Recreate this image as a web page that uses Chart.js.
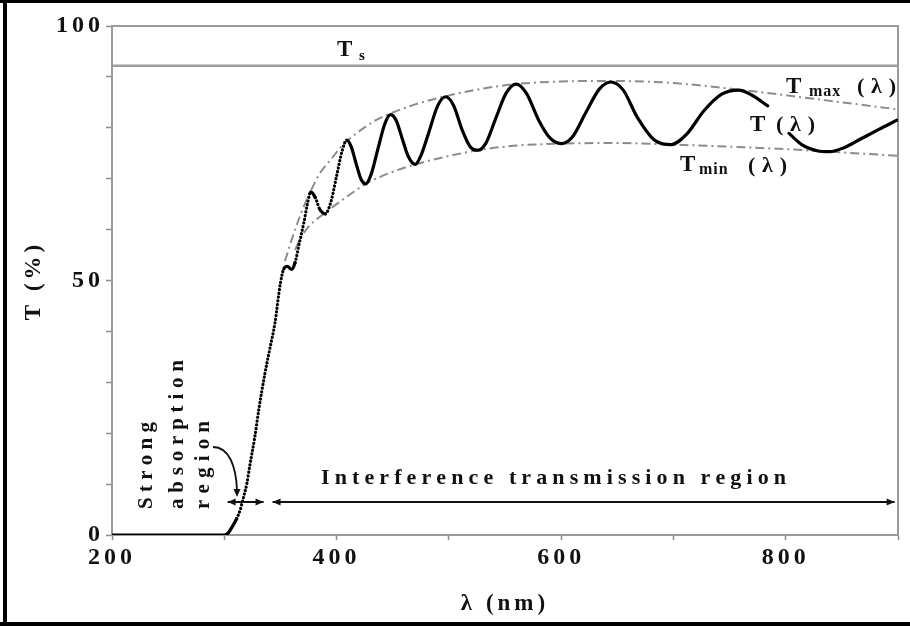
<!DOCTYPE html>
<html><head><meta charset="utf-8">
<script src="https://cdn.jsdelivr.net/npm/chart.js@4.4.1/dist/chart.umd.min.js"></script>
<style>html,body{margin:0;padding:0;background:#fff;}canvas{display:block;}</style>
</head><body>
<canvas id="c" width="910" height="626"></canvas>
<script>
// ---- data ----
const wavelength = [200,250,300,303,307,311,314,317,320,323,327,331,336,340,345,350,353,356,360,363,367,371,374,377,381,385,390,395,400,405,409,413,418,422,426,431,437,443,448,453,459,464,470,475,482,490,497,504,512,519,526,533,542,551,560,569,580,590,600,610,622,634,644,655,668,683,698,712,727,743,758,770,784,793,803,815,828,839,852,866,883,899];
const transmission = [0,0,0,0.3,1.6,3.2,4.8,7.3,10,14,19,25,31.5,36,41.5,49.5,52.3,52.8,52.2,53.5,57.5,61.5,65,67.4,66.3,64,63.1,65.5,70.5,75.5,77.6,76.3,72.5,69.8,69,71,76,80.8,82.6,81.5,77.5,74.3,72.8,74.5,79,84.3,86.1,84.5,79.5,76.3,75.6,77,82,86.8,88.6,86.8,81.5,78,76.9,78.2,83,87.6,89,87.5,82,77.6,76.7,78.8,83.3,86.6,87.4,86.4,84.3,null,78.9,76.6,75.5,75.3,76.1,77.7,79.7,81.5];
const tmaxWavelength = [354,360,368,377,385,395,405,420,435,450,470,497,530,560,600,644,700,758,800,850,900];
const tmaxValues = [53.8,58,63,67.6,71,73.8,76.5,79.3,81.5,83,84.6,86.2,87.7,88.6,89.1,89.2,88.8,87.5,86.4,85,83.6];
const tminWavelength = [363,368,374,382,390,400,410,426,447,470,495,526,560,600,650,698,750,800,839,870,900];
const tminValues = [56,58.3,60.3,62,63.3,65,66.6,69,71.1,72.8,74.2,75.6,76.5,76.9,77,76.7,76.3,75.8,75.3,74.9,74.5];
const substrateWavelength = [200,900];
const substrateT = [92.2,92.2];
const xTickLabels = [200,400,600,800];
const yTickLabels = [0,50,100];
const absorptionRegion = [303,335];
const interferenceRegion = [343,897];
const regionArrowLevel = 6.5;

const pts = (xs, ys) => xs.map((x,i)=>({x, y: ys[i]}));
const SERIF = "'Liberation Serif','Times New Roman',serif";
const INK = '#111';

function spaced(ctx, str, x, y, sp){
  let cx = x;
  for (const ch of str){ ctx.fillText(ch, cx, y); cx += ctx.measureText(ch).width + sp; }
  return cx;
}
function fitText(ctx, str, x, y, width){
  const chars = [...str];
  const w = chars.reduce((s,c)=>s+ctx.measureText(c).width,0);
  const sp = (width - w)/(chars.length-1);
  spaced(ctx, str, x, y, sp);
}
function arrowHead(ctx, x, y, ang, len=8, half=3.5){
  ctx.beginPath();
  ctx.moveTo(x, y);
  ctx.lineTo(x - len*Math.cos(ang) + half*Math.sin(ang), y - len*Math.sin(ang) - half*Math.cos(ang));
  ctx.lineTo(x - len*Math.cos(ang) - half*Math.sin(ang), y - len*Math.sin(ang) + half*Math.cos(ang));
  ctx.closePath(); ctx.fill();
}

const annot = {
  id: 'annot',
  beforeDraw(chart){ chart.ctx.letterSpacing = '4px'; },
  beforeDatasetsDraw(chart){
    const {ctx, chartArea:a} = chart;
    ctx.letterSpacing = '0px';
    ctx.save();
    ctx.strokeStyle = '#9a9a9a'; ctx.lineWidth = 2;
    ctx.beginPath(); ctx.moveTo(a.left, a.top); ctx.lineTo(a.right, a.top); ctx.lineTo(a.right, a.bottom); ctx.stroke();
    ctx.restore();
  },
  afterDraw(chart){
    const {ctx} = chart;
    const xs = chart.scales.x, ys = chart.scales.y;
    ctx.save();
    ctx.letterSpacing = '0px';
    ctx.fillStyle = INK; ctx.strokeStyle = INK;
    ctx.textBaseline = 'alphabetic'; ctx.textAlign = 'left';
    // Ts
    ctx.font = `bold 23px ${SERIF}`; ctx.fillText('T', 337, 56);
    ctx.font = `bold 15px ${SERIF}`; ctx.fillText('s', 359, 60);
    // Tmax (λ)
    ctx.font = `bold 23px ${SERIF}`; ctx.fillText('T', 786, 93);
    ctx.font = `bold 16px ${SERIF}`; spaced(ctx, 'max', 809, 96, 1);
    ctx.font = `bold 22px ${SERIF}`; fitText(ctx, '(λ)', 857, 93, 39);
    // T (λ)
    ctx.font = `bold 23px ${SERIF}`; ctx.fillText('T', 750, 131);
    ctx.font = `bold 22px ${SERIF}`; fitText(ctx, '(λ)', 776, 131, 39);
    // Tmin (λ)
    ctx.font = `bold 23px ${SERIF}`; ctx.fillText('T', 680, 171);
    ctx.font = `bold 16px ${SERIF}`; spaced(ctx, 'min', 699, 174, 1);
    ctx.font = `bold 22px ${SERIF}`; fitText(ctx, '(λ)', 748, 172, 39);
    // Interference label
    ctx.font = `bold 22px ${SERIF}`;
    fitText(ctx, 'Interference transmission region', 321, 484, 465);
    // Strong absorption region (rotated)
    ctx.font = `bold 21px ${SERIF}`;
    const lines = [['Strong',152,87],['absorption',183,149],['region',209,88]];
    for (const [t, bx, w] of lines){
      ctx.save(); ctx.translate(bx, 509); ctx.rotate(-Math.PI/2);
      fitText(ctx, t, 0, 0, w); ctx.restore();
    }
    // region arrows
    const ay = ys.getPixelForValue(regionArrowLevel);
    ctx.lineWidth = 2;
    for (const [l, r] of [absorptionRegion, interferenceRegion]){
      const x0 = xs.getPixelForValue(l), x1 = xs.getPixelForValue(r);
      ctx.beginPath(); ctx.moveTo(x0, ay); ctx.lineTo(x1, ay); ctx.stroke();
      arrowHead(ctx, x0, ay, Math.PI); arrowHead(ctx, x1, ay, 0);
    }
    // curved pointer from "region"
    ctx.lineWidth = 1.8;
    ctx.beginPath(); ctx.moveTo(213, 447); ctx.bezierCurveTo(229, 447, 236, 466, 237, 490); ctx.stroke();
    arrowHead(ctx, 237, 497, Math.PI/2, 8, 3.5);
    // outer frame
    ctx.fillStyle = '#000';
    ctx.fillRect(3, 0, 4, 626);
    ctx.fillRect(0, 0, 910, 3);
    ctx.fillRect(0, 622, 910, 4);
    ctx.restore();
  }
};

new Chart(document.getElementById('c'), {
  type: 'line',
  data: {
    datasets: [
      { data: pts(wavelength, transmission), borderColor: '#000', borderWidth: 3.2, pointRadius: 0,
        cubicInterpolationMode: 'monotone', spanGaps: false, borderCapStyle: 'round', order: 0,
        segment: { borderDash: c => {
          const dx = Math.abs(c.p1.x - c.p0.x), dy = Math.abs(c.p1.y - c.p0.y);
          return (wavelength[c.p0DataIndex] < 412 && dy > 2*dx) ? [0.1, 3.6] : undefined; } } },
      { data: pts(tmaxWavelength, tmaxValues), borderColor: '#8c8c8c', borderWidth: 2, pointRadius: 0,
        cubicInterpolationMode: 'monotone', borderDash: [9,4,2,4], order: 1 },
      { data: pts(tminWavelength, tminValues), borderColor: '#8c8c8c', borderWidth: 2, pointRadius: 0,
        cubicInterpolationMode: 'monotone', borderDash: [9,4,2,4], order: 1 },
      { data: pts(substrateWavelength, substrateT), borderColor: '#9a9a9a', borderWidth: 2.5, pointRadius: 0, order: 2 }
    ]
  },
  options: {
    responsive: false, animation: false, devicePixelRatio: 1,
    layout: { padding: { left: 0, right: 12, top: 26, bottom: 0 } },
    plugins: { legend: { display: false }, tooltip: { enabled: false } },
    scales: {
      x: { type: 'linear', min: 200, max: 900,
        afterFit: s => { s.height = 91; },
        ticks: { stepSize: 100, autoSkip: false, maxRotation: 0, padding: 3, color: INK,
          font: { family: SERIF, size: 24, weight: 'bold' },
          callback: v => xTickLabels.includes(v) ? String(v) : '' },
        grid: { drawOnChartArea: false, tickLength: 5, color: '#8c8c8c', tickWidth: 1.5 },
        border: { color: '#9a9a9a', width: 2 },
        title: { display: true, text: 'λ (nm)', color: INK, font: { family: SERIF, size: 23, weight: 'bold' }, padding: { top: 0, bottom: 8 } } },
      y: { min: 0, max: 100,
        afterFit: s => { s.width = 112; },
        ticks: { stepSize: 10, autoSkip: false, padding: 2, color: INK,
          font: { family: SERIF, size: 24, weight: 'bold' },
          callback: v => yTickLabels.includes(v) ? String(v) : '' },
        grid: { drawOnChartArea: false, tickLength: 6, color: '#8c8c8c', tickWidth: 1.5 },
        border: { color: '#9a9a9a', width: 2 },
        title: { display: true, text: 'T (%)', color: INK, font: { family: SERIF, size: 23, weight: 'bold' }, padding: { top: 20, bottom: 0 } } }
    }
  },
  plugins: [annot]
});
</script>
</body></html>
